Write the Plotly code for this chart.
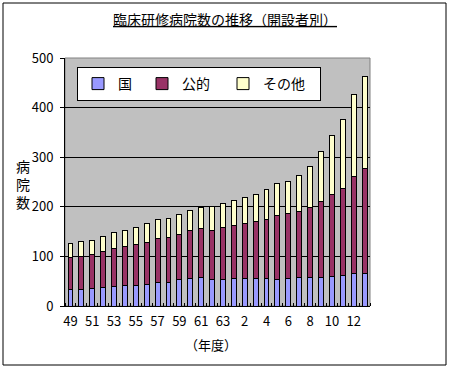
import plotly.graph_objects as go

years = ["49", "50", "51", "52", "53", "54", "55", "56", "57", "58", "59", "60", "61", "62", "63",
         "元", "2", "3", "4", "5", "6", "7", "8", "9", "10", "11", "12", "13"]
kuni = [33, 34, 36, 38, 39, 41, 42, 44, 47, 48, 54, 56, 58, 54, 54,
        56, 56, 56, 56, 54, 55, 57, 57, 57, 59, 61, 65, 65]
koteki = [64, 66, 67, 71, 76, 78, 83, 85, 90, 90, 90, 96, 98, 98, 104,
          106, 110, 114, 119, 129, 132, 134, 142, 154, 165, 175, 197, 213]
sonota = [30, 31, 30, 31, 33, 33, 33, 37, 37, 39, 41, 41, 43, 49, 49,
          51, 53, 55, 59, 63, 65, 73, 82, 101, 119, 140, 165, 185]
y_ticks = [0, 100, 200, 300, 400, 500]

FONT = "Noto Sans CJK JP"
idx = list(range(len(years)))
label_idx = idx[::2]

fig = go.Figure()
for name, vals, col, lw in [("国", kuni, "#9999FF", 19), ("公的", koteki, "#993366", 36),
                            ("その他", sonota, "#FFFFCC", 52)]:
    fig.add_trace(go.Bar(x=idx, y=vals, name=name, legendwidth=lw,
                         marker=dict(color=col, line=dict(color="black", width=1))))

L, R, T, B = 65, 370, 58, 306
W, H = 450, 369
pw, ph = R - L, B - T

def px(x):
    return (x - L) / pw

def py(y):
    return (B - y) / ph

fig.update_layout(
    width=W, height=H,
    margin=dict(l=L, r=W - R, t=T, b=H - B),
    barmode="stack", bargap=0.55,
    paper_bgcolor="white", plot_bgcolor="#C0C0C0",
    font=dict(family=FONT, size=12, color="black"),
    showlegend=True,
    legend=dict(orientation="h", x=px(77), y=py(67), xanchor="left", yanchor="top",
                bgcolor="white", bordercolor="black", borderwidth=1,
                font=dict(family=FONT, size=14), traceorder="normal"),
    title=dict(text="<u>臨床研修病院数の推移（開設者別）</u>", x=225 / W, xanchor="center",
               y=1 - 20 / H, yanchor="middle", font=dict(family=FONT, size=14)),
    xaxis=dict(range=[-0.5, len(years) - 0.5], tickmode="array", tickvals=label_idx,
               ticktext=[years[i] for i in label_idx], ticks="", showgrid=False, zeroline=False,
               showline=True, linecolor="black", linewidth=1, ticklabelstandoff=3,
               minor=dict(tickmode="linear", tick0=-0.5, dtick=1, ticks="inside", ticklen=3,
                          tickcolor="black", showgrid=False),
               tickfont=dict(family=FONT, size=13)),
    yaxis=dict(range=[0, 500], tickmode="array", tickvals=y_ticks, ticks="outside", ticklen=4,
               tickcolor="black", showgrid=True, gridcolor="black", gridwidth=1, zeroline=False,
               showline=True, linecolor="black", linewidth=1, ticklabelstandoff=4,
               tickfont=dict(family=FONT, size=13)),
    shapes=[
        dict(type="rect", xref="paper", yref="paper", x0=0, x1=1, y0=0, y1=1,
             line=dict(color="#808080", width=1), layer="below"),
        dict(type="rect", xref="paper", yref="paper", x0=px(3), x1=px(446), y0=py(365), y1=py(3),
             line=dict(color="black", width=1)),
    ],
    annotations=[
        dict(text="病<br>院<br>数", xref="paper", yref="paper", x=px(23), y=py(184),
             xanchor="center", yanchor="middle",
             showarrow=False, font=dict(family=FONT, size=14)),
        dict(text="（年度）", xref="paper", yref="paper", x=px(211), y=py(344),
             xanchor="center", yanchor="middle",
             showarrow=False, font=dict(family=FONT, size=13)),
    ],
)

fig.write_html("out.html", config={"displayModeBar": False},
               post_script="document.body.style.margin='0px';document.body.style.overflow='hidden';")
